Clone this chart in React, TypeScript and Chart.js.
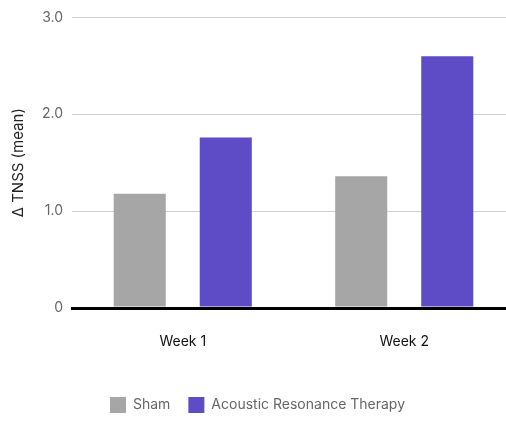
import React, { useEffect, useRef } from 'react';
import { Chart, registerables } from 'chart.js';

Chart.register(...registerables);

// chart values
const weeks = ['Week 1', 'Week 2'];
const shamValues = [1.18, 1.36];
const artValues = [1.76, 2.6];
const yTicks = [0, 1, 2, 3];

const FONT = "Inter, 'Noto Sans', sans-serif";

const App: React.FC = () => {
  const canvasRef = useRef<HTMLCanvasElement>(null);

  useEffect(() => {
    document.body.style.margin = '0';
    document.body.style.overflow = 'hidden';
    if (!canvasRef.current) return;
    const chart = new Chart(canvasRef.current, {
      type: 'bar',
      data: {
        labels: weeks,
        datasets: [
          {
            label: 'Sham',
            data: shamValues,
            backgroundColor: '#a6a6a6',
            categoryPercentage: 0.777,
            barPercentage: 0.605,
          },
          {
            label: 'Acoustic Resonance Therapy',
            data: artValues,
            backgroundColor: '#5e4bc6',
            categoryPercentage: 0.777,
            barPercentage: 0.605,
          },
        ],
      },
      options: {
        responsive: false,
        animation: false,
        layout: { padding: { top: 16, left: 0, right: 0, bottom: 0 } },
        plugins: {
          tooltip: { enabled: false },
          legend: {
            position: 'bottom',
            labels: {
              boxWidth: 16,
              boxHeight: 16,
              padding: 18,
              color: '#666',
              font: { family: FONT, size: 14 },
            },
          },
        },
        scales: {
          x: {
            grid: { display: false, drawTicks: false },
            border: { display: true, color: '#000', width: 3 },
            ticks: { color: '#111', padding: 25, font: { family: FONT, size: 14 } },
            afterFit: (scale: any) => { scale.height = 71; },
          },
          y: {
            min: 0,
            max: 3,
            afterBuildTicks: (scale: any) => { scale.ticks = yTicks.map(v => ({ value: v })); },
            grid: {
              drawTicks: false,
              color: (ctx: any) => (ctx.tick && ctx.tick.value === 0 ? '#000' : '#d0d0d0'),
              lineWidth: (ctx: any) => (ctx.tick && ctx.tick.value === 0 ? 3 : 1),
            },
            border: { display: false },
            ticks: {
              color: '#666',
              padding: 9,
              font: { family: FONT, size: 14 },
              callback: (v: any) => (Number(v) === 0 ? '0' : Number(v).toFixed(1)),
            },
            title: {
              display: true,
              text: 'Δ TNSS (mean)',
              color: '#222',
              padding: { top: 9, bottom: 0 },
              font: { family: FONT, size: 15 },
            },
            afterFit: (scale: any) => { scale.width = 72; },
          },
        },
      },
    });
    return () => chart.destroy();
  }, []);

  return (
    <div style={{ width: 506, height: 423, overflow: 'hidden', position: 'relative' }}>
      <canvas ref={canvasRef} width={515} height={423} style={{ display: 'block' }} />
    </div>
  );
};

export default App;
